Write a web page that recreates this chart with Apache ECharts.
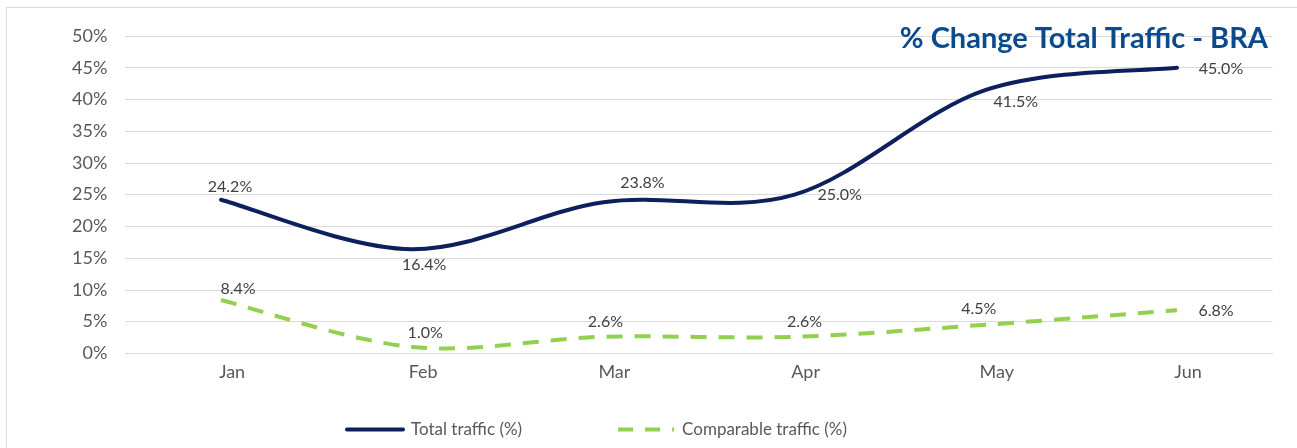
<!DOCTYPE html>
<html>
<head>
<meta charset="utf-8">
<script src="https://cdn.jsdelivr.net/npm/echarts@6/dist/echarts.min.js"></script>
<style>
  html, body { margin: 0; padding: 0; background: #ffffff; }
  #chart { width: 1297px; height: 448px; }
</style>
</head>
<body>
<div id="chart"></div>
<script>
// ---- data ----
const categories = ['Jan', 'Feb', 'Mar', 'Apr', 'May', 'Jun'];
const totalTraffic = [24.2, 16.4, 23.8, 25.0, 41.5, 45.0];
const comparableTraffic = [8.4, 1.0, 2.6, 2.6, 4.5, 6.8];
const seriesNames = ['Total traffic (%)', 'Comparable traffic (%)'];
const chartTitle = '% Change Total Traffic - BRA';

// ---- label placement (layout, not data) ----
const totalLabelOffsets = [[9, -13], [12, 16], [39, -19], [45, 0], [30, 12], [44, 1]];
const compLabelOffsets = [[17, -11], [13, -14], [2, -15], [10, -15], [-7, -16], [39, 1]];

const FONT = 'Lato, "Open Sans", sans-serif';
const NAVY = '#0d1f5c';
const GREEN = '#92d050';
const CLEAR = 'rgba(0,0,0,0)';

function withLabels(values, offsets) {
  return values.map((v, i) => ({
    value: v,
    label: { offset: offsets[i] }
  }));
}

// Smooth curve (Catmull-Rom style Bezier, like spreadsheet smoothing),
// built from the data through the chart's own coordinate system.
function smoothRenderer(values, style) {
  return function (params, api) {
    if (params.dataIndex !== 0) return null;
    const pts = values.map((v, i) => api.coord([i, v]));
    const n = pts.length;
    const t = 1 / 6;
    let d = 'M' + pts[0][0] + ' ' + pts[0][1];
    for (let i = 0; i < n - 1; i++) {
      const p0 = pts[Math.max(i - 1, 0)];
      const p1 = pts[i];
      const p2 = pts[i + 1];
      const p3 = pts[Math.min(i + 2, n - 1)];
      const c1x = p1[0] + (p2[0] - p0[0]) * t;
      const c1y = p1[1] + (p2[1] - p0[1]) * t;
      const c2x = p2[0] - (p3[0] - p1[0]) * t;
      const c2y = p2[1] - (p3[1] - p1[1]) * t;
      d += ' C' + c1x + ' ' + c1y + ' ' + c2x + ' ' + c2y + ' ' + p2[0] + ' ' + p2[1];
    }
    return {
      type: 'path',
      shape: { pathData: d },
      style: Object.assign({ fill: 'none' }, style),
      silent: true
    };
  };
}

const chart = echarts.init(document.getElementById('chart'), null, { renderer: 'canvas' });

const labelBase = {
  show: true,
  position: 'inside',
  align: 'center',
  verticalAlign: 'middle',
  color: '#404040',
  fontFamily: FONT,
  fontSize: 16,
  formatter: p => p.value.toFixed(1) + '%'
};

chart.setOption({
  animation: false,
  backgroundColor: '#ffffff',
  graphic: [
    {
      type: 'rect',
      shape: { x: 6.5, y: 7.5, width: 1320, height: 460 },
      style: { fill: 'none', stroke: '#d9d9d9', lineWidth: 1 },
      silent: true,
      z: -10
    }
  ],
  title: {
    text: chartTitle,
    right: 24,
    top: 19,
    textStyle: {
      fontFamily: FONT,
      fontWeight: 'bold',
      fontSize: 29,
      color: '#0b4a8c'
    }
  },
  grid: {
    left: 125.4,
    right: 24.4,
    top: 36,
    bottom: 94.7,
    containLabel: false
  },
  xAxis: {
    type: 'category',
    data: categories,
    boundaryGap: true,
    axisLine: { show: true, lineStyle: { color: '#d9d9d9', width: 1 } },
    axisTick: { show: false },
    axisLabel: {
      color: '#595959',
      fontFamily: FONT,
      fontSize: 18,
      margin: 10,
      padding: [0, 0, 0, 22]
    }
  },
  yAxis: {
    type: 'value',
    min: 0,
    max: 50,
    interval: 5,
    axisLine: { show: false },
    axisTick: { show: false },
    splitLine: { show: true, lineStyle: { color: '#d9d9d9', width: 1 } },
    axisLabel: {
      color: '#595959',
      fontFamily: FONT,
      fontSize: 18,
      margin: 18,
      formatter: v => v + '%'
    }
  },
  legend: {
    left: 340,
    top: 416,
    itemWidth: 56,
    itemHeight: 14,
    itemGap: 94,
    textStyle: {
      color: '#595959',
      fontFamily: FONT,
      fontSize: 17,
      padding: [0, 0, 0, 3]
    },
    data: [
      { name: seriesNames[0], itemStyle: { opacity: 0 }, lineStyle: { width: 4, color: NAVY, cap: 'round', opacity: 1 } },
      { name: seriesNames[1], itemStyle: { opacity: 0 }, lineStyle: { width: 4, color: GREEN, type: [15, 12], opacity: 1 } }
    ]
  },
  series: [
    {
      name: seriesNames[0] + ' curve',
      type: 'custom',
      renderItem: smoothRenderer(totalTraffic, { stroke: NAVY, lineWidth: 4, lineCap: 'round' }),
      data: totalTraffic.map((v, i) => [i, v]),
      z: 3
    },
    {
      name: seriesNames[1] + ' curve',
      type: 'custom',
      renderItem: smoothRenderer(comparableTraffic, { stroke: GREEN, lineWidth: 4, lineDash: [16, 12] }),
      data: comparableTraffic.map((v, i) => [i, v]),
      z: 2
    },
    {
      name: seriesNames[0],
      type: 'line',
      symbol: 'circle',
      symbolSize: 1,
      showSymbol: true,
      itemStyle: { color: CLEAR },
      lineStyle: { color: NAVY, width: 4, opacity: 0 },
      label: labelBase,
      data: withLabels(totalTraffic, totalLabelOffsets),
      z: 4
    },
    {
      name: seriesNames[1],
      type: 'line',
      symbol: 'circle',
      symbolSize: 1,
      showSymbol: true,
      itemStyle: { color: CLEAR },
      lineStyle: { color: GREEN, width: 4, type: [16, 12], opacity: 0 },
      label: labelBase,
      data: withLabels(comparableTraffic, compLabelOffsets),
      z: 4
    }
  ]
});
</script>
</body>
</html>
